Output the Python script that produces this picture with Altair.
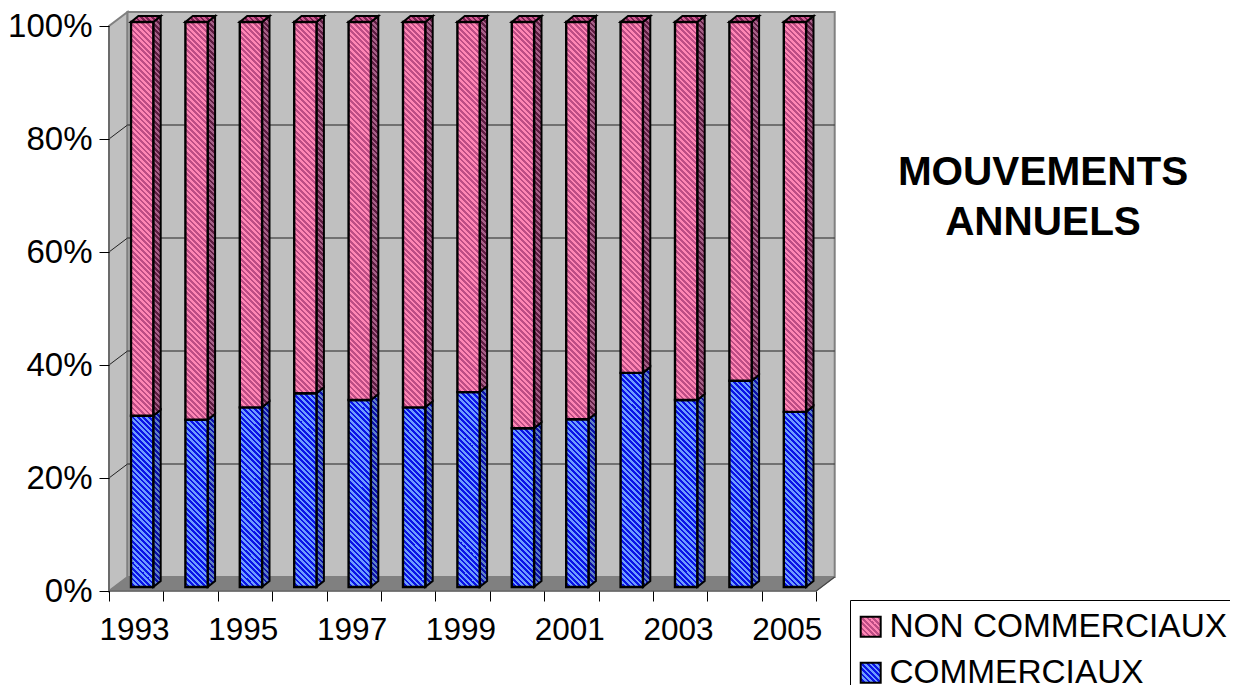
import json
import altair as alt
import pandas as pd

YEARS = list(range(1993, 2006))
COMMERCIAUX = [30.3, 29.6, 31.8, 34.3, 33.1, 31.8, 34.5, 28.1, 29.7, 37.9, 33.1, 36.5, 31.0]
NON_COMMERCIAUX = [100 - v for v in COMMERCIAUX]
Y_TICKS = [0, 20, 40, 60, 80, 100]
YEAR_LABELS = [str(y) if i % 2 == 0 else "" for i, y in enumerate(YEARS)] + [""]
TITLE_LINES = ["MOUVEMENTS", "ANNUELS"]
SERIES = ["NON COMMERCIAUX", "COMMERCIAUX"]

FONT = "Liberation Sans"
PX_X, PX_Y = 54.4, 5.65
W, H = 725, 579
XMAX, YMAX = W / PX_X, H / PX_Y
WALL_DX, WALL_DY = 18.5 / PX_X, YMAX - 100
BAR_L, BAR_W = 22.0 / PX_X, 22.3 / PX_X
BAR_DX, BAR_DY = 7.4 / PX_X, 6.0 / PX_Y
BASE = 4.0 / PX_Y
PINK = ("#ff86b4", "#bd4d85")
BLUE = ("#6e9cff", "#0a14e6")
PINK_SIDE = ("#a66088", "#5e1d42")
BLUE_SIDE = ("#5f80c8", "#0a10a8")
PINK_TOP = ("#d05a92", "#7a1f50")
STROKE = "black"


def hatch(w, h, colors, period=5.4):
    nx, ny = 1 / h, -1 / w
    nn = nx * nx + ny * ny
    s = (1 / h + 1 / w) / nn
    count = (w + h) / period
    stops, i = [], 0
    while i / count < 1:
        a, b, c = i / count, min((i + 0.5) / count, 1), min((i + 1) / count, 1)
        stops += [{"offset": a, "color": colors[0]}, {"offset": b, "color": colors[0]},
                  {"offset": b, "color": colors[1]}, {"offset": c, "color": colors[1]}]
        i += 1
    return {"gradient": "linear", "x1": 0, "y1": 1, "x2": s * nx, "y2": 1 + s * ny, "stops": stops}


xs = alt.Scale(domain=[0, XMAX], nice=False, zero=False)
ys = alt.Scale(domain=[0, YMAX], nice=False, zero=False)
label_expr = json.dumps(YEAR_LABELS) + "[datum.value]"
XAX = alt.Axis(values=list(range(14)), domain=False, grid=False, tickColor="black", tickSize=10, tickWidth=1,
               labelExpr=label_expr, labelOffset=25, labelOverlap=False, labelFont=FONT, labelFontSize=31.5,
               labelColor="black", labelPadding=13, labelFlush=False, labelBound=False, zindex=1, title=None)
YAX = alt.Axis(values=Y_TICKS, domain=False, grid=False, tickColor="black", tickSize=10, tickWidth=1,
               labelExpr="datum.value + '%'", labelOverlap=False, labelFont=FONT, labelFontSize=33,
               labelColor="black", labelPadding=7, labelFlush=False, labelBound=False, zindex=1, title=None)
X = alt.X("x:Q", scale=xs, axis=XAX)
Y = alt.Y("y:Q", scale=ys, axis=YAX)
Y2 = alt.Y2("y2:Q")


def area(points, fill, stroke=STROKE, sw=2.0):
    df = pd.DataFrame(points, columns=["x", "y", "y2"])
    return alt.Chart(df).mark_area(fill=fill, stroke=stroke, strokeWidth=sw, interpolate="linear",
                                   strokeJoin="miter", opacity=1).encode(x=X, y=Y, y2=Y2)


def front(x0, lo, hi, fill):
    df = pd.DataFrame([{"x": x0, "x2": x0 + BAR_W, "y": lo, "y2": hi}])
    return alt.Chart(df).mark_rect(fill=fill, stroke=STROKE, strokeWidth=2.4).encode(
        x=X, x2=alt.X2("x2:Q"), y=Y, y2=Y2)


def line(points, color, sw=1.0):
    df = pd.DataFrame(points, columns=["x", "y"])
    return alt.Chart(df).mark_line(color=color, strokeWidth=sw, interpolate="linear").encode(
        x=alt.X("x:Q", scale=xs, axis=XAX, sort=None), y=Y, order="i:Q").transform_window(
        i="row_number()")


layers = []

# walls and floor
WALL, FLOOR, EDGE = "#c0c0c0", "#808080", "#808080"
layers.append(area([(0, 0, 100), (WALL_DX, WALL_DY, 100 + WALL_DY)], WALL, EDGE, 2))
layers.append(area([(WALL_DX, WALL_DY, 100 + WALL_DY), (13 + WALL_DX, WALL_DY, 100 + WALL_DY)], WALL, EDGE, 2))
layers.append(area([(0, 0, 0), (WALL_DX, 0, WALL_DY), (13, 0, WALL_DY), (13 + WALL_DX, WALL_DY, WALL_DY)],
                   FLOOR, EDGE, 1))
# gridlines
for v in Y_TICKS[1:-1]:
    layers.append(line([(0, v), (WALL_DX, v + WALL_DY), (13 + WALL_DX, v + WALL_DY)], "#222222", 1))
layers.append(line([(0, 0), (0, 100)], "#666666", 1.6))
layers.append(line([(0, 0), (13, 0)], "#666666", 1.6))
layers.append(line([(13, 0), (13 + WALL_DX, WALL_DY)], "#444444", 1.2))

# bars
for i, (a, b) in enumerate(zip(COMMERCIAUX, NON_COMMERCIAUX)):
    x0 = i + BAR_L
    x1 = x0 + BAR_W
    mid = BASE + a
    top = mid + b
    w_px, d_px = BAR_W * PX_X, BAR_DX * PX_X
    # side faces
    layers.append(area([(x1, BASE, mid), (x1 + BAR_DX, BASE + BAR_DY, mid + BAR_DY)],
                       hatch(d_px, a * PX_Y + 6, BLUE_SIDE)))
    layers.append(area([(x1, mid, top), (x1 + BAR_DX, mid + BAR_DY, top + BAR_DY)],
                       hatch(d_px, b * PX_Y + 6, PINK_SIDE)))
    # top face
    layers.append(area([(x0, top, top), (x0 + BAR_DX, top, top + BAR_DY), (x1, top, top + BAR_DY),
                        (x1 + BAR_DX, top + BAR_DY, top + BAR_DY)], hatch(w_px + d_px, 6, PINK_TOP)))
    # front faces
    layers.append(front(x0, BASE, mid, hatch(w_px, a * PX_Y, BLUE)))
    layers.append(front(x0, mid, top, hatch(w_px, b * PX_Y, PINK)))

# titles
for line_text, yp in zip(TITLE_LINES, [161, 211]):
    layers.append(alt.Chart(pd.DataFrame({"x": [0]})).mark_text(
        text=line_text, font=FONT, fontWeight="bold", fontSize=40.5, color="black", align="center",
        baseline="middle", clip=False).encode(x=alt.value(934), y=alt.value(yp)))

# legend
sym_pink, sym_blue = hatch(20, 20, PINK), hatch(20, 20, BLUE)
legend_layer = alt.Chart(pd.DataFrame({"series": SERIES, "x": [0, 0], "y": [0, 0]})).mark_point(
    filled=True, size=0).encode(
    x=X, y=Y,
    fill=alt.Fill("series:N", scale=alt.Scale(
        domain=SERIES,
        range=[{"expr": json.dumps(sym_pink)}, {"expr": json.dumps(sym_blue)}]),
        legend=alt.Legend(
            title=None, orient="none", legendX=741, legendY=588, padding=10,
            strokeColor="black", fillColor="white", symbolType="square", symbolSize=400,
            symbolOffset=-6,
            symbolStrokeColor="black", symbolStrokeWidth=2, symbolOpacity=1,
            labelFont=FONT, labelFontSize=33.4, labelColor="black", labelLimit=600,
            rowPadding=11, labelOffset=2, values=SERIES)))
layers.append(legend_layer)

chart = alt.layer(*layers).properties(
    width=W, height=H,
    autosize=alt.AutoSizeParams(type="none"),
    padding={"left": 101, "top": 4, "right": 396, "bottom": 94},
    background="white",
).configure_view(stroke=None)

chart.save("out.html", embed_options={"renderer": "svg", "actions": False})
